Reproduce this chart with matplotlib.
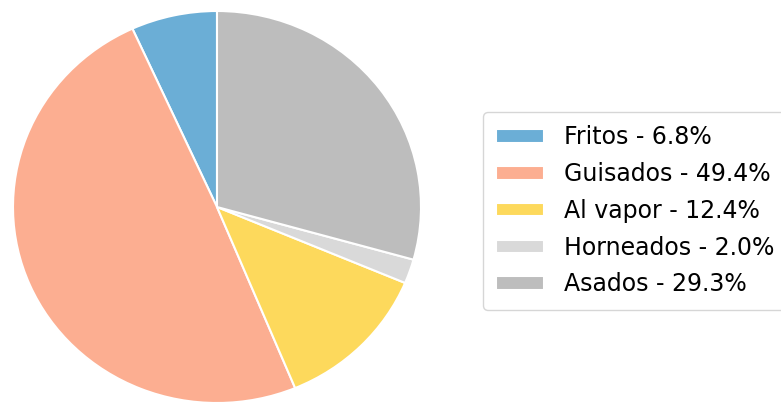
import matplotlib
matplotlib.use("Agg")
import matplotlib.pyplot as plt

# cooking methods and their share
metodos = ["Fritos", "Guisados", "Al vapor", "Horneados", "Asados"]
porcentajes = [6.8, 49.4, 12.4, 2.0, 29.3]
colores = ["#6baed6", "#fcae91", "#fdd95c", "#d9d9d9", "#bdbdbd"]

W, H = 781, 407
fig = plt.figure(figsize=(W / 100, H / 100), dpi=100)

cx, cy, rx, ry = 217, 207, 204, 196
ax = fig.add_axes([(cx - rx) / W, (H - cy - ry) / H, 2 * rx / W, 2 * ry / H])
ax.pie(porcentajes, colors=colores, startangle=90, counterclock=True,
       wedgeprops={"edgecolor": "white", "linewidth": 1.5})
ax.set_aspect("auto")
ax.set_xlim(-1, 1)
ax.set_ylim(-1, 1)

etiquetas = ["{} - {}%".format(m, p) for m, p in zip(metodos, porcentajes)]
wedges = ax.patches
fig.legend(wedges, etiquetas, loc="upper left",
           bbox_to_anchor=(483 / W, 1 - 112 / H), borderaxespad=0,
           fontsize=17, handlelength=2.0, handleheight=0.5,
           labelspacing=0.54, borderpad=0.57, handletextpad=0.85,
           frameon=True)

fig.savefig("out.png", dpi=100)
